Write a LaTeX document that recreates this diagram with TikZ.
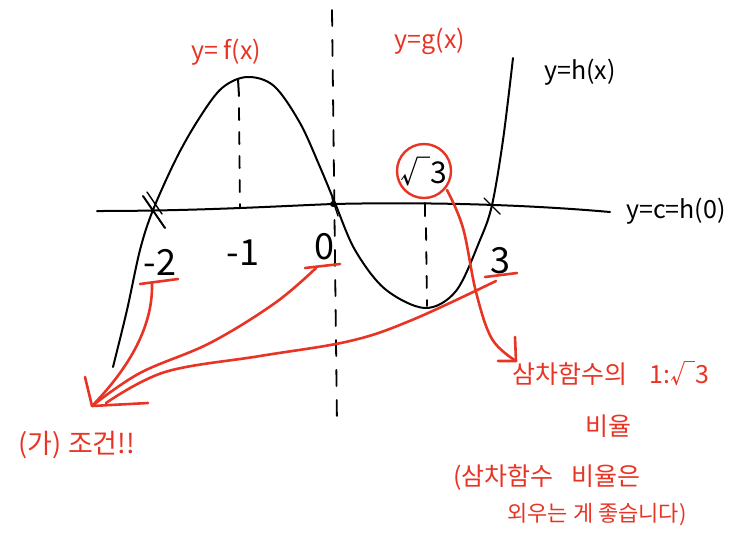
\documentclass[tikz,border=0pt]{standalone}
\usepackage{fontspec}
\setmainfont{Noto Sans CJK KR}
\usetikzlibrary{calc}
\definecolor{pen}{RGB}{232,52,36}
\tikzset{
  ink/.style={line width=2pt,black,line cap=round,line join=round},
  redink/.style={line width=2.6pt,pen,line cap=round,line join=round},
  dashguide/.style={line width=1.8pt,black,line cap=round,dash pattern=on 16pt off 14pt},
  lbl/.style={black,font=\fontsize{25}{27}\selectfont,inner sep=0pt},
  redlbl/.style={pen,font=\fontsize{25}{27}\selectfont,inner sep=0pt},
  note/.style={pen,font=\fontsize{25}{28}\selectfont,inner sep=0pt},
  num/.style={black,font=\fontsize{36}{38}\selectfont,inner sep=0pt}
}
\begin{document}
\begin{tikzpicture}[x=1pt,y=-1pt]
\useasboundingbox (0,0) rectangle (746,539);
% axis line y = c = h(0)
\draw[ink] (97,211) .. controls (200,211) and (280,206) .. (333,204)
  .. controls (420,202) and (520,204) .. (610,212);
% vertical dashed line between f and g
\draw[dashguide] (332,10) -- (337,425);
% dashed guides
\draw[ink] (238,79) -- (239,96);
\draw[dashguide,dash pattern=on 12pt off 12pt] (239,108) -- (240,207);
\draw[ink] (425,203) -- (425,216);
\draw[dashguide,dash pattern=on 12pt off 12pt] (426,228) -- (427,306);
% the cubic-like curve
\draw[ink] plot[smooth,tension=0.55] coordinates {
  (113,367) (127,310) (140,250) (153,210) (177,157) (200,117) (222,88)
  (247,77) (274,86) (300,123) (320,167) (335,203) (355,250) (385,289)
  (425,308) (456,291) (480,240) (492,205) (503,140) (513,58)};
% crossing marks
\draw[ink] (143,196) -- (165,228);
\draw[ink,line width=1.4pt] (147,192) -- (162,214);
\fill (333,204) circle (3pt);
\draw[ink,line width=1.4pt] (332,198) -- (338,216);
\draw[ink,line width=1.4pt] (484,198) -- (500,214);
% labels
\node[redlbl] (f) at (226,52) {y= f(x)};
\node[redlbl] (g) at (430,41) {y=g(x)};
\node[lbl] (h) at (580,72) {y=h(x)};
\node[lbl] (c) at (676,211) {y=c=h(0)};
\node[num] (m2) at (160,262) {-2};
\node[num] (m1) at (243,253) {-1};
\node[num] (z) at (324,247) {0};
\node[num,font=\fontsize{30}{32}\selectfont] (r3) at (424,172) {√3};
\node[num] (t) at (500,261) {3};
% underlines
\draw[redink] (140,284) -- (178,279);
\draw[redink] (305,268) -- (340,264);
\draw[redink] (485,277) -- (517,273);
\coordinate (u2) at (152,284);
\coordinate (u0) at (316,268);
\coordinate (u3) at (496,281);
% circle around sqrt 3
\node[draw=pen,line width=2.4pt,circle,minimum size=54pt,inner sep=0pt] (circ) at (424,171) {};
% target of arrows
\coordinate (tip) at (92,406);
\node[note,font=\fontsize{27}{29}\selectfont] (cond) at (77,445) {(가) 조건!!};
\draw[redink] (u2) .. controls (153,330) and (125,372) .. (tip);
\draw[redink] plot[smooth,tension=0.6] coordinates {(u0) (275,303) (210,343) (140,373) (tip)};
\draw[redink] plot[smooth,tension=0.6] coordinates {(u3) (412,320) (350,341) (260,356) (165,372) (106,403)};
\draw[redink] (85,377) -- (tip) -- (148,403);
% arrow from circle to note
\coordinate (rtip) at (516,361);
\draw[redink] plot[smooth,tension=0.6] coordinates {(447,190) (463,228) (476,292) (492,339) (rtip)};
\draw[redink] (515,337) -- (rtip) -- (498,361);
% notes
\node[note] (n1) at (611,374) {삼차함수의\hspace{0.9em}1:√3};
\node[note] (n2) at (608,426) {비율};
\node[note] (n3) at (547,478) {(삼차함수\hspace{0.7em}비율은};
\node[note,font=\fontsize{22}{24}\selectfont] (n4) at (597,515) {외우는 게 좋습니다)};
\end{tikzpicture}
\end{document}
